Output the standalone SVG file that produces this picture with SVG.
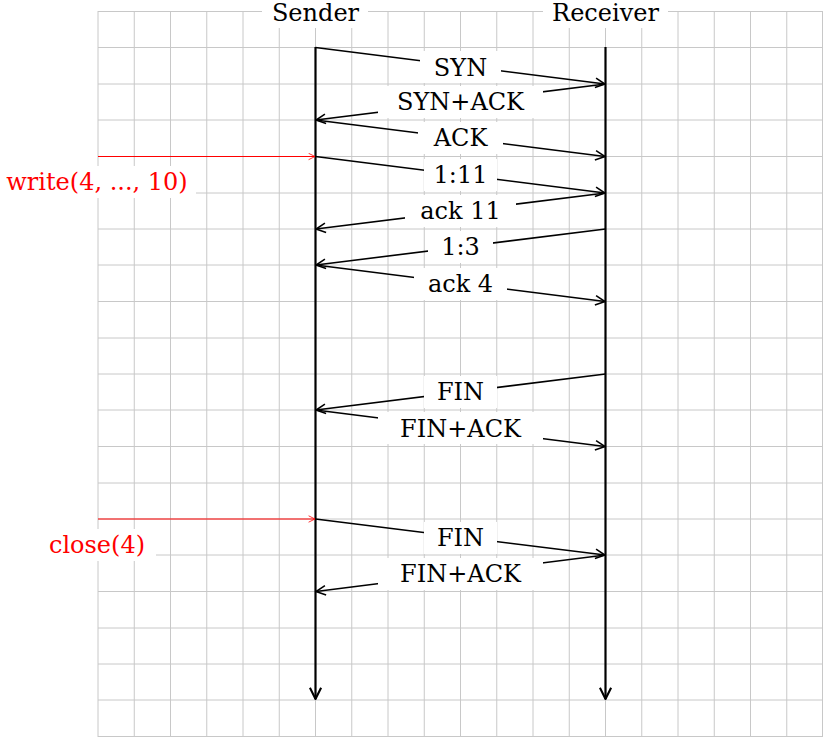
<svg xmlns="http://www.w3.org/2000/svg" width="823" height="737" viewBox="0 0 823 737">
<style>
.g{stroke:#c8c8c8;stroke-width:1}
.m{stroke:#000;stroke-width:1.6;fill:none;marker-end:url(#a)}
.r{stroke:#f00;stroke-width:1;fill:none;marker-end:url(#ar)}
.t{font-family:"DejaVu Serif",serif;font-size:24px;text-anchor:middle}
.bg{fill:#fff}
</style>
<defs>
<marker id="a" viewBox="0 0 10 10" refX="9" refY="5" markerWidth="12" markerHeight="12" markerUnits="userSpaceOnUse" orient="auto"><path d="M1,1 L9,5 L1,9" fill="none" stroke="#000" stroke-width="1.3"/></marker>
<marker id="ab" viewBox="0 0 10 10" refX="9" refY="5" markerWidth="14" markerHeight="14" markerUnits="userSpaceOnUse" orient="auto"><path d="M1,1 L9,5 L1,9" fill="none" stroke="#000" stroke-width="1.5"/></marker>
<marker id="ar" viewBox="0 0 10 10" refX="9" refY="5" markerWidth="8" markerHeight="8" markerUnits="userSpaceOnUse" orient="auto"><path d="M1,1 L9,5 L1,9" fill="none" stroke="#f00" stroke-width="1"/></marker>
</defs>
<rect width="823" height="737" fill="#fff"/>
<g id="grid" class="g">
<path d="M98,11V737M134.25,11V737M170.5,11V737M206.75,11V737M243,11V737M279.25,11V737M315.5,11V737M351.75,11V737M388,11V737M424.25,11V737M460.5,11V737M496.75,11V737M533,11V737M569.25,11V737M605.5,11V737M641.75,11V737M678,11V737M714.25,11V737M750.5,11V737M786.75,11V737M822.5,11V737"/>
<path d="M98,11.5H823M98,47.5H823M98,84H823M98,120H823M98,156.5H823M98,193H823M98,229H823M98,265H823M98,301.5H823M98,338H823M98,374H823M98,410H823M98,446.5H823M98,483H823M98,519H823M98,555H823M98,591.5H823M98,628H823M98,664H823M98,700H823M98,736.5H823"/>
</g>
<g id="sender"><line x1="315.5" y1="47" x2="315.5" y2="699" stroke="#000" stroke-width="2.2" marker-end="url(#ab)"/><rect class="bg" x="262" y="0" width="106" height="28"/><text class="t" x="315.5" y="21">Sender</text></g>
<g id="receiver"><line x1="605.5" y1="47" x2="605.5" y2="699" stroke="#000" stroke-width="2.2" marker-end="url(#ab)"/><rect class="bg" x="543" y="0" width="125" height="28"/><text class="t" x="605.5" y="21">Receiver</text></g>
<g id="connectors">
<line class="m" x1="315.5" y1="47.5" x2="605" y2="84"/>
<line class="m" x1="605.5" y1="84" x2="316" y2="120"/>
<line class="m" x1="315.5" y1="120" x2="605" y2="156.5"/>
<line class="m" x1="315.5" y1="156.5" x2="605" y2="193"/>
<line class="m" x1="605.5" y1="193" x2="316" y2="229"/>
<line class="m" x1="605.5" y1="229" x2="316" y2="265"/>
<line class="m" x1="315.5" y1="265" x2="605" y2="301.5"/>
<line class="m" x1="605.5" y1="374" x2="316" y2="410"/>
<line class="m" x1="315.5" y1="410" x2="605" y2="446.5"/>
<line class="m" x1="315.5" y1="519" x2="605" y2="555"/>
<line class="m" x1="605.5" y1="555" x2="316" y2="591.5"/>
<line class="r" x1="98" y1="156.5" x2="315" y2="156.5"/>
<line class="r" x1="98" y1="519" x2="315" y2="519"/>
</g>
<g id="labels">
<rect class="bg" x="420" y="51" width="81" height="32"/><text class="t" x="460.5" y="76">SYN</text>
<rect class="bg" x="378" y="86" width="165" height="32"/><text class="t" x="460.5" y="110">SYN+ACK</text>
<rect class="bg" x="418" y="122" width="85" height="32"/><text class="t" x="460.5" y="146">ACK</text>
<rect class="bg" x="424" y="159" width="73" height="32"/><text class="t" x="460.5" y="183">1:11</text>
<rect class="bg" x="405" y="195" width="111" height="32"/><text class="t" x="460.5" y="219">ack 11</text>
<rect class="bg" x="428" y="231" width="65" height="32"/><text class="t" x="460.5" y="255">1:3</text>
<rect class="bg" x="414" y="268" width="93" height="32"/><text class="t" x="460.5" y="292">ack 4</text>
<rect class="bg" x="424" y="376" width="73" height="32"/><text class="t" x="460.5" y="400">FIN</text>
<rect class="bg" x="378" y="412" width="165" height="32"/><text class="t" x="460.5" y="437">FIN+ACK</text>
<rect class="bg" x="424" y="522" width="73" height="32"/><text class="t" x="460.5" y="546">FIN</text>
<rect class="bg" x="378" y="558" width="165" height="32"/><text class="t" x="460.5" y="582">FIN+ACK</text>
<rect class="bg" x="0" y="166" width="196" height="32"/><text class="t" x="97" y="190" fill="#f00">write(4, ..., 10)</text>
<rect class="bg" x="40" y="529" width="116" height="32"/><text class="t" x="97" y="553" fill="#f00">close(4)</text>
</g>
</svg>
